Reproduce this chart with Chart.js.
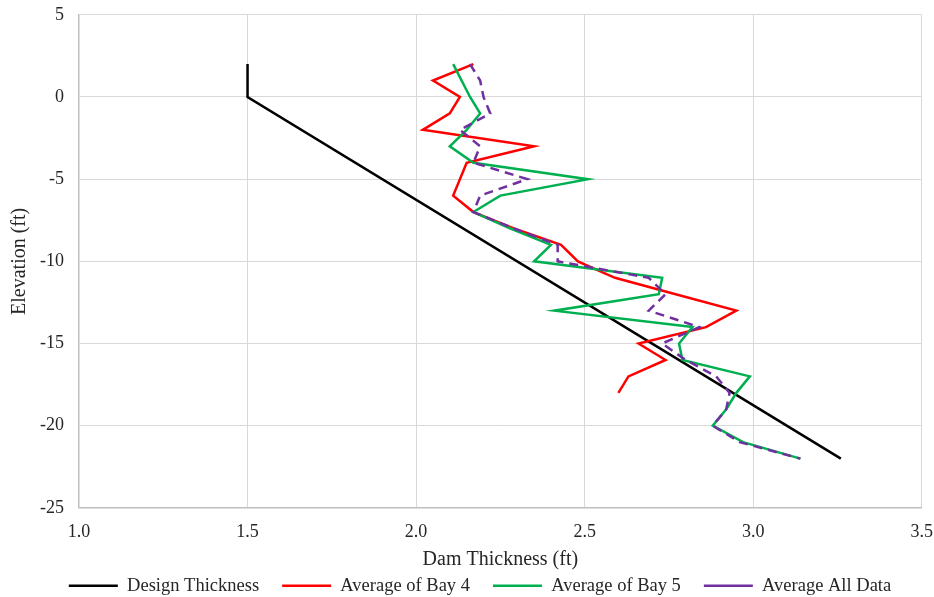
<!DOCTYPE html>
<html>
<head>
<meta charset="utf-8">
<script src="https://cdn.jsdelivr.net/npm/chart.js@4"></script>
<style>
  body { margin: 0; background: #fff; }
  #wrap { width: 934px; height: 597px; }
</style>
</head>
<body>
<div id="wrap"><canvas id="dam_chart"></canvas></div>
<script>
// elevation (ft) and thickness (ft)
const designElev = [2, 0, -22];
const designThick = [1.5, 1.5, 3.26];

const bay4Elev = [2, 1, 0, -1, -2, -3, -4, -6, -7, -8, -9, -10, -11, -12, -13, -14, -15, -16, -17, -18];
const bay4Thick = [2.17, 2.05, 2.13, 2.1, 2.02, 2.35, 2.15, 2.11, 2.17, 2.29, 2.43, 2.48, 2.59, 2.77, 2.95, 2.86, 2.66, 2.74, 2.63, 2.6];

const bay5Elev = [2, 0, -1, -2, -3, -4, -5, -6, -7, -8, -9, -10, -11, -12, -13, -14, -15, -16, -17, -18, -19, -20, -21, -22];
const bay5Thick = [2.11, 2.16, 2.19, 2.15, 2.1, 2.17, 2.51, 2.25, 2.17, 2.28, 2.4, 2.35, 2.73, 2.72, 2.41, 2.82, 2.78, 2.79, 2.99, 2.95, 2.92, 2.88, 2.97, 3.14];

const allElev = [2, 1, 0, -1, -2, -3, -4, -5, -6, -7, -8, -9, -10, -11, -12, -13, -14, -15, -16, -17, -18, -19, -20, -21, -22];
const allThick = [2.16, 2.19, 2.2, 2.22, 2.13, 2.19, 2.17, 2.33, 2.19, 2.17, 2.29, 2.42, 2.42, 2.69, 2.74, 2.69, 2.84, 2.73, 2.8, 2.89, 2.93, 2.92, 2.88, 2.96, 3.14];

const xTicks = [1.0, 1.5, 2.0, 2.5, 3.0, 3.5];
const yTicks = [5, 0, -5, -10, -15, -20, -25];

function pts(xs, ys) {
  const out = [];
  for (let i = 0; i < xs.length; i++) {
    out.push({ x: xs[i], y: ys[i] });
  }
  return out;
}

const serif = 'Liberation Serif';
const textColor = '#262626';
const ctx = document.getElementById('dam_chart');

new Chart(ctx, {
  type: 'scatter',
  data: {
    datasets: [
      {
        label: 'Design Thickness',
        data: pts(designThick, designElev),
        borderColor: '#000000',
        backgroundColor: '#000000',
        borderWidth: 2.5,
        order: 4
      },
      {
        label: 'Average of Bay 4',
        data: pts(bay4Thick, bay4Elev),
        borderColor: '#ff0000',
        backgroundColor: '#ff0000',
        borderWidth: 2.5,
        order: 3
      },
      {
        label: 'Average of Bay 5',
        data: pts(bay5Thick, bay5Elev),
        borderColor: '#00b050',
        backgroundColor: '#00b050',
        borderWidth: 2.5,
        order: 2
      },
      {
        label: 'Average All Data',
        data: pts(allThick, allElev),
        borderColor: '#7030a0',
        backgroundColor: '#7030a0',
        borderWidth: 2.5,
        borderDash: [9, 6],
        order: 1
      }
    ]
  },
  options: {
    responsive: true,
    maintainAspectRatio: false,
    animation: false,
    showLine: true,
    elements: {
      point: { radius: 0, hoverRadius: 0 },
      line: { tension: 0, fill: false }
    },
    // extra left padding pushes the legend row right; the y title padding takes it back
    layout: { padding: { left: 26, right: 0, top: 0, bottom: -8 } },
    scales: {
      x: {
        type: 'linear',
        min: 1.0,
        max: 3.5,
        afterBuildTicks: (axis) => { axis.ticks = xTicks.map(v => ({ value: v })); },
        ticks: {
          color: textColor,
          font: { family: serif, size: 18 },
          padding: 1,
          callback: (v) => Number(v).toFixed(1)
        },
        grid: { color: '#d9d9d9', lineWidth: 1, drawTicks: true, tickLength: 13, tickColor: 'rgba(0,0,0,0)' },
        border: { color: '#bfbfbf', width: 1.5 },
        title: {
          display: true,
          text: 'Dam Thickness (ft)',
          color: textColor,
          font: { family: serif, size: 20 },
          padding: { top: 3, bottom: -18 }
        }
      },
      y: {
        type: 'linear',
        min: -25,
        max: 5,
        afterBuildTicks: (axis) => { axis.ticks = yTicks.map(v => ({ value: v })); },
        ticks: {
          color: textColor,
          font: { family: serif, size: 18 },
          padding: 4
        },
        grid: { color: '#d9d9d9', lineWidth: 1, drawTicks: true, tickLength: 11, tickColor: 'rgba(0,0,0,0)' },
        border: { color: '#bfbfbf', width: 1.5 },
        title: {
          display: true,
          text: 'Elevation (ft)',
          color: textColor,
          font: { family: serif, size: 20 },
          padding: { top: -18, bottom: 4 }
        }
      }
    },
    plugins: {
      legend: {
        display: true,
        position: 'bottom',
        labels: {
          usePointStyle: true,
          pointStyle: 'line',
          pointStyleWidth: 49,
          boxWidth: 49,
          boxHeight: 8,
          padding: 23,
          color: textColor,
          font: { family: serif, size: 18.5 },
          sort: (a, b) => a.datasetIndex - b.datasetIndex
        }
      },
      tooltip: { enabled: false }
    }
  }
});
</script>
</body>
</html>
